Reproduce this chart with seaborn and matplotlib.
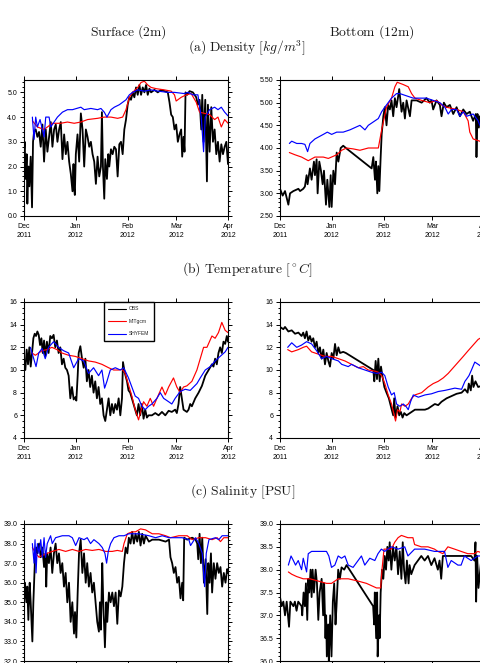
import numpy as np
import pandas as pd
import matplotlib
matplotlib.use('Agg')
import matplotlib.pyplot as plt
import matplotlib.dates as mdates
from matplotlib.ticker import MultipleLocator, FormatStrFormatter
import seaborn as sns

sns.set_theme(style='ticks')
plt.rcParams['font.family'] = ['Liberation Sans', 'DejaVu Sans']
plt.rcParams['mathtext.fontset'] = 'cm'

START = pd.Timestamp('2011-12-01')
END = pd.Timestamp('2012-04-01')
series_names = ['OBS', 'MITgcm', 'SHYFEM']
series_colors = ['black', 'red', 'blue']

# ---------------- Density, surface ----------------
dens_sfc_obs_day = [0, 0.4, 1, 1.6, 2, 2.6, 3.2, 4, 4.8, 5.4, 6, 7, 8, 9, 10, 11, 12, 13, 14, 15, 16, 17, 18, 19, 20,
                    21, 22, 23, 24, 25, 26, 27, 28, 29, 29.6, 30, 30.4, 31, 32, 33, 34, 35, 36, 37, 38, 39, 40, 41, 42,
                    43, 44, 45, 46, 46.6, 47.2, 48, 48.6, 49.6, 50.4, 51, 52, 53, 54, 55, 56, 57, 58, 59, 60, 61, 62,
                    63, 64, 65, 66, 67, 68, 69, 70, 71, 72, 73, 74, 75, 76, 78, 80, 82, 84, 86, 87, 88, 89, 90, 91,
                    92, 93, 94, 94.6, 95.4, 96, 96.6, 97.6, 99, 101, 103, 104, 105, 106, 106.6, 107.4, 108.4, 109.4,
                    110, 111, 112, 113, 114, 115, 116, 117, 118, 119, 120, 121, 122]
dens_sfc_obs = [2.6, 3.0, 1.5, 2.5, 0.5, 2.0, 1.2, 2.4, 0.35, 3.0, 3.4, 3.5, 3.2, 3.4, 2.8, 3.7, 2.2, 3.5, 2.6, 3.2,
                3.8, 2.8, 3.5, 3.7, 3.0, 3.5, 3.8, 2.3, 3.3, 2.5, 3.0, 2.2, 1.7, 1.0, 2.1, 1.1, 0.85, 2.5, 3.3, 2.2,
                4.15, 3.5, 2.0, 3.5, 3.2, 2.8, 3.0, 2.5, 2.2, 1.3, 2.4, 1.6, 2.0, 4.2, 2.0, 0.7, 2.3, 1.5, 2.5, 2.0,
                2.7, 2.5, 2.8, 2.7, 1.6, 2.9, 3.0, 2.5, 3.5, 3.9, 4.5, 4.8, 4.7, 5.0, 4.8, 5.2, 4.9, 5.3, 4.9, 5.2,
                5.0, 5.3, 4.9, 5.15, 5.0, 5.1, 5.0, 5.1, 5.05, 5.0, 4.6, 4.1, 4.0, 3.5, 3.7, 3.0, 3.3, 3.5, 2.4,
                3.2, 2.6, 5.0, 4.9, 5.05, 5.0, 4.8, 4.5, 4.7, 3.5, 4.9, 3.0, 4.7, 1.4, 4.5, 2.6, 4.4, 3.0, 3.5, 2.5,
                3.0, 2.2, 2.9, 2.5, 2.8, 3.0, 2.1]
dens_sfc_mit_day = [5, 8, 12, 14, 17, 22, 26, 30, 34, 38, 44, 48, 52, 56, 59, 61, 63, 65, 68, 70, 72, 74, 76, 79, 84,
                    88, 90, 91, 94, 97, 100, 103, 105, 108, 111, 114, 116, 118, 120, 122]
dens_sfc_mit = [3.85, 3.6, 3.5, 3.6, 3.75, 3.75, 3.8, 3.75, 3.8, 3.9, 3.95, 4.0, 4.0, 3.95, 4.0, 4.3, 4.8, 5.0, 5.2,
                5.4, 5.45, 5.3, 5.2, 5.15, 5.1, 5.05, 4.9, 4.65, 4.8, 4.9, 4.95, 4.6, 4.2, 4.15, 4.1, 3.9, 4.0, 3.6,
                3.9, 3.75]
dens_sfc_shy_day = [5, 6, 7, 8, 9.6, 11, 12, 13, 15, 16, 17, 18, 20, 23, 26, 29, 34, 36, 40, 44, 46, 48, 49.6, 52, 54,
                    57, 59, 61, 63, 65, 68, 72, 76, 80, 86, 90, 96, 98, 101, 104, 106, 107.4, 108.4, 111, 114, 116,
                    118, 120, 122]
dens_sfc_shy = [4.0, 3.1, 4.0, 3.6, 3.9, 3.5, 3.2, 4.0, 4.0, 3.6, 3.7, 3.8, 4.0, 4.2, 4.3, 4.3, 4.4, 4.3, 4.35, 4.3,
                4.35, 4.2, 4.0, 4.3, 4.4, 4.5, 4.6, 4.7, 4.9, 5.0, 5.1, 5.05, 5.1, 5.05, 5.0, 5.0, 4.95, 5.0, 4.9, 4.9,
                4.0, 2.6, 4.0, 4.3, 4.4, 4.3, 4.4, 4.2, 4.05]

# ---------------- Density, bottom ----------------
dens_bot_obs_day = [0, 1.6, 3.0, 5.0, 6.0, 8.0, 11.0, 12.0, 13.9, 14.9, 15.9, 16.5, 17.9, 18.9, 20.3, 20.9, 21.9, 22.5,
                    23.5, 24.5, 25.5, 26.3, 27.5, 28.3, 29.5, 30.3, 30.9, 31.9, 32.9, 33.9, 34.9, 36.3, 37.8, 39.4,
                    54.8, 55.8, 56.8, 57.4, 58.2, 58.8, 59.4, 60.2, 60.8, 61.8, 62.7, 63.7, 64.7, 65.7, 66.7, 67.7,
                    68.7, 69.7, 71.3, 72.7, 73.7, 74.7, 75.7, 77.7, 78.7, 81.7, 84.7, 87.6, 89.6, 90.6, 91.6, 93.6,
                    95.6, 96.6, 98.0, 99.6, 101.6, 103.6, 105.6, 107.6, 109.6, 111.6, 113.5, 115.5, 117.1, 117.5,
                    118.1, 118.9, 119.5, 120.7, 122]
dens_bot_obs = [3.1, 2.95, 3.05, 2.75, 3.0, 3.05, 3.1, 3.05, 3.1, 3.15, 3.4, 3.2, 3.55, 3.3, 3.7, 3.4, 3.75, 3.0, 3.7,
                3.5, 3.2, 3.5, 2.75, 3.3, 2.7, 3.4, 2.7, 3.5, 3.2, 3.9, 3.7, 4.0, 4.05, 4.0, 3.55, 3.8, 3.3, 3.7, 3.0,
                3.6, 3.05, 3.8, 4.3, 4.7, 4.9, 4.5, 4.95, 4.85, 5.05, 4.7, 5.1, 4.9, 5.3, 4.8, 5.0, 4.65, 5.05, 4.7,
                5.05, 5.05, 5.0, 5.1, 5.0, 5.05, 4.85, 5.05, 4.95, 4.7, 5.0, 4.9, 4.95, 4.75, 4.9, 4.7, 4.85, 4.75,
                4.8, 4.6, 4.75, 3.8, 4.75, 4.45, 4.7, 4.4, 4.6]
dens_bot_mit_day = [5.6, 9.0, 12.9, 16.9, 20.9, 25.9, 28.9, 33.9, 36.9, 39.8, 43.8, 47.8, 52.8, 58.8, 60.8, 63.7, 66.7,
                    68.7, 70.1, 73.7, 76.7, 78.7, 80.7, 84.7, 89.6, 93.6, 96.6, 99.6, 105.6, 109.6, 112.5, 113.5,
                    115.5, 119.5, 122]
dens_bot_mit = [3.9, 3.85, 3.8, 3.72, 3.8, 3.8, 3.77, 3.85, 3.95, 4.0, 3.98, 3.95, 4.0, 4.0, 4.4, 4.9, 5.1, 5.35, 5.45,
                5.4, 5.35, 5.2, 5.1, 5.05, 5.0, 5.05, 4.95, 4.9, 4.85, 4.8, 4.6, 4.35, 4.2, 4.15, 4.15]
dens_bot_shy_day = [5.6, 7.0, 10.0, 12.9, 14.9, 16.5, 17.9, 20.9, 25.9, 28.3, 30.9, 33.9, 37.8, 41.8, 44.8, 47.8, 50.8,
                    52.8, 54.8, 56.8, 58.8, 60.8, 62.7, 64.7, 66.7, 69.7, 71.7, 75.7, 79.7, 83.7, 87.6, 91.6, 95.6,
                    98.6, 100.6, 102.6, 105.6, 107.6, 109.6, 111.6, 115.5, 118.5, 119.5, 122]
dens_bot_shy = [4.1, 4.15, 4.1, 4.1, 4.08, 3.92, 4.1, 4.2, 4.3, 4.35, 4.3, 4.35, 4.35, 4.4, 4.45, 4.5, 4.4, 4.5, 4.55,
                4.6, 4.65, 4.8, 4.9, 5.0, 5.1, 5.2, 5.2, 5.15, 5.1, 5.1, 5.1, 5.05, 5.0, 4.9, 4.75, 4.85, 4.85, 4.7,
                4.8, 4.7, 4.75, 4.6, 4.5, 4.5]

# ---------------- Temperature, surface ----------------
temp_sfc_obs_day = [0, 0.8, 1.6, 2.4, 3.2, 4.0, 4.8, 5.6, 6.4, 7.2, 8.0, 8.8, 9.6, 10.4, 11.2, 12.0, 12.7, 13.7, 14.7,
                    15.7, 16.7, 17.7, 18.7, 19.7, 20.7, 21.7, 22.7, 23.7, 24.7, 25.7, 26.7, 27.7, 28.7, 29.7, 30.7,
                    31.3, 32.1, 32.7, 33.7, 34.7, 35.7, 36.7, 37.6, 38.6, 39.6, 40.6, 41.6, 42.6, 43.6, 44.6, 45.6,
                    46.6, 47.6, 48.6, 49.6, 50.6, 51.6, 52.6, 53.6, 54.6, 55.6, 56.6, 57.6, 58.6, 59.2, 60.2, 61.6,
                    62.5, 63.5, 64.5, 65.5, 66.5, 67.5, 68.5, 69.5, 70.5, 71.5, 72.5, 73.5, 74.5, 76.5, 78.5, 80.5,
                    82.5, 84.5, 86.5, 88.4, 90.4, 91.4, 92.4, 93.4, 94.4, 95.4, 96.4, 97.4, 98.4, 99.4, 100.4, 102.4,
                    104.4, 106.4, 108.4, 110.4, 112.4, 113.3, 114.3, 115.3, 116.3, 117.3, 118.3, 119.3, 120.3, 121.3,
                    122]
temp_sfc_obs = [11.0, 10.0, 11.8, 10.5, 12.0, 10.3, 11.5, 12.8, 13.2, 13.0, 13.4, 13.1, 12.2, 12.8, 11.5, 12.6, 11.2,
                12.5, 11.5, 13.0, 12.8, 13.1, 12.0, 12.6, 11.5, 12.0, 10.5, 11.0, 10.2, 10.0, 9.5, 7.5, 8.5, 7.4, 7.6,
                7.3, 9.5, 11.5, 12.1, 11.0, 10.2, 11.0, 9.0, 10.0, 8.5, 9.5, 8.0, 9.0, 7.5, 8.5, 7.0, 7.5, 6.0, 5.5,
                6.5, 7.5, 6.0, 7.0, 6.2, 7.0, 6.5, 7.5, 6.0, 7.5, 10.7, 9.8, 9.0, 8.2, 8.0, 7.5, 7.0, 6.5, 6.0, 7.0,
                6.0, 7.0, 5.7, 6.5, 5.8, 6.0, 6.0, 6.2, 6.0, 6.3, 6.0, 6.4, 6.3, 6.5, 6.2, 7.0, 8.5, 7.5, 6.5, 6.4,
                6.3, 6.5, 7.0, 6.8, 7.5, 8.0, 8.6, 9.5, 10.0, 10.5, 10.3, 11.0, 10.5, 11.5, 12.0, 11.5, 12.5, 12.3,
                13.0, 12.5]
temp_sfc_mit_day = [4.8, 6.8, 8.8, 10.8, 13.7, 16.7, 19.7, 22.7, 26.7, 30.7, 34.7, 38.6, 42.6, 46.6, 50.6, 53.6, 56.6,
                    58.6, 60.2, 62.5, 64.5, 66.5, 68.5, 70.1, 71.5, 73.5, 75.5, 77.5, 79.5, 82.5, 84.5, 86.5, 89.4,
                    91.4, 93.4, 95.4, 97.4, 100.4, 103.4, 105.4, 107.4, 109.4, 112.4, 114.3, 116.3, 118.3, 120.3, 122]
temp_sfc_mit = [11.5, 11.3, 11.5, 11.7, 11.8, 12.0, 11.8, 11.5, 11.3, 11.2, 11.0, 10.8, 10.7, 10.5, 10.2, 10.0, 10.0,
                10.05, 9.8, 8.7, 7.7, 6.5, 5.6, 6.5, 7.2, 6.8, 7.5, 6.8, 7.5, 8.5, 7.8, 8.5, 9.3, 8.5, 8.0, 8.5, 8.6,
                9.0, 10.0, 11.0, 12.0, 12.0, 13.0, 12.8, 13.3, 14.2, 13.5, 13.3]
temp_sfc_shy_day = [3.8, 7.2, 8.8, 10.8, 12.7, 14.7, 17.7, 20.7, 23.7, 26.7, 29.7, 32.7, 35.7, 38.6, 41.6, 44.6, 46.6,
                    48.2, 49.6, 51.6, 54.6, 57.6, 59.6, 62.5, 64.5, 66.5, 68.5, 70.5, 72.5, 74.5, 76.5, 79.5, 81.5,
                    83.5, 86.5, 88.4, 90.4, 93.4, 96.4, 99.4, 101.4, 103.4, 105.4, 108.4, 111.4, 114.3, 117.3, 120.3,
                    122]
temp_sfc_shy = [12.0, 10.3, 11.5, 11.9, 11.0, 12.0, 12.5, 12.0, 11.7, 11.5, 10.2, 11.0, 10.8, 9.7, 10.2, 9.5, 10.0,
                8.4, 9.0, 10.0, 10.2, 10.0, 10.2, 9.3, 8.5, 7.7, 7.5, 6.8, 6.5, 6.8, 7.0, 7.5, 8.0, 7.5, 7.2, 7.0, 7.5,
                8.1, 8.3, 8.2, 8.5, 8.8, 9.3, 10.0, 10.3, 10.8, 11.2, 11.6, 12.0]

# ---------------- Temperature, bottom ----------------
temp_bot_obs_day = [0, 2.0, 3.0, 5.0, 7.0, 9.0, 11.0, 12.9, 13.9, 14.9, 15.9, 16.9, 17.9, 18.9, 19.9, 20.9, 21.9, 22.9,
                    23.9, 24.9, 25.9, 26.9, 27.9, 28.9, 29.9, 30.9, 31.9, 32.9, 33.9, 34.9, 35.9, 37.8, 39.4, 55.8,
                    56.4, 57.2, 58.0, 58.8, 59.6, 60.4, 61.2, 62.4, 63.7, 65.1, 66.3, 67.7, 68.3, 69.1, 70.3, 71.3,
                    72.3, 73.3, 74.3, 75.7, 77.7, 80.7, 86.7, 88.6, 90.6, 92.6, 94.6, 96.6, 99.6, 102.6, 105.6, 108.6,
                    110.6, 112.2, 112.9, 114.1, 114.9, 115.7, 116.9, 118.5, 120.5, 122]
temp_bot_obs = [13.8, 13.6, 13.8, 13.4, 13.5, 13.2, 13.3, 13.0, 13.3, 12.8, 13.4, 12.6, 13.0, 12.5, 12.8, 12.0, 12.5,
                11.5, 12.0, 11.0, 11.8, 10.5, 11.5, 10.8, 10.3, 11.5, 11.0, 12.3, 11.3, 12.0, 11.5, 11.6, 11.5, 10.0,
                9.0, 10.8, 9.2, 11.0, 9.0, 10.3, 9.5, 8.5, 8.0, 7.5, 6.8, 6.0, 7.5, 5.8, 6.8, 6.0, 6.3, 5.8, 6.2, 6.0,
                6.2, 6.5, 6.5, 6.6, 6.8, 7.0, 6.9, 7.2, 7.5, 7.7, 7.9, 8.0, 8.3, 8.0, 8.8, 8.2, 9.5, 8.5, 9.0, 8.5,
                8.6, 8.5]
temp_bot_mit_day = [4.6, 7.0, 11.0, 13.9, 15.9, 18.9, 22.9, 26.9, 30.9, 34.9, 38.8, 42.8, 46.8, 49.8, 52.8, 56.8, 58.8,
                    60.8, 62.7, 64.7, 66.7, 68.3, 69.1, 70.3, 71.7, 72.7, 74.7, 76.7, 78.7, 80.7, 84.7, 88.6, 91.6,
                    94.6, 97.6, 100.6, 103.6, 106.6, 109.6, 112.5, 115.5, 118.5, 122]
temp_bot_mit = [11.8, 11.6, 11.8, 12.0, 12.1, 11.6, 11.4, 11.2, 11.2, 11.0, 10.8, 10.5, 10.2, 10.3, 10.0, 9.9, 9.8, 9.5,
                8.8, 7.8, 7.0, 6.0, 5.5, 6.5, 6.3, 7.0, 6.8, 7.0, 7.5, 7.8, 8.0, 8.5, 8.8, 9.0, 9.3, 9.7, 10.2, 10.7,
                11.2, 11.7, 12.2, 12.7, 13.0]
temp_bot_shy_day = [4.6, 7.0, 10.0, 12.9, 15.9, 18.9, 21.9, 24.9, 27.9, 30.9, 34.9, 36.9, 40.8, 42.8, 46.8, 50.8, 54.8,
                    57.8, 60.8, 62.7, 64.7, 66.7, 68.3, 69.7, 71.7, 73.7, 75.3, 76.7, 78.1, 79.7, 82.7, 86.7, 90.6,
                    94.6, 98.6, 104.6, 108.6, 110.6, 111.6, 113.0, 114.5, 116.5, 118.5, 120.5, 122]
temp_bot_shy = [12.0, 12.4, 12.0, 12.2, 12.5, 12.3, 11.7, 11.0, 11.2, 11.0, 10.8, 10.5, 10.3, 10.5, 10.2, 10.0, 9.8,
                9.7, 9.8, 9.5, 8.5, 7.8, 8.0, 7.0, 6.8, 7.0, 6.8, 6.5, 7.2, 7.8, 7.6, 7.8, 7.9, 8.1, 8.2, 8.4, 8.3,
                9.0, 9.2, 9.5, 10.0, 10.7, 10.5, 10.3, 10.5]

# ---------------- Salinity, surface ----------------
sal_sfc_obs_day = [0, 0.6, 1.4, 2.0, 2.6, 3.4, 4.0, 5.0, 5.6, 6.6, 7.4, 8.0, 9.0, 10.0, 11.0, 12.0, 12.9, 13.3, 13.9,
                   14.9, 15.9, 16.9, 17.9, 18.9, 19.9, 20.9, 21.9, 22.9, 23.9, 24.9, 25.9, 26.9, 27.9, 28.9, 29.9,
                   30.5, 31.3, 32.1, 32.9, 33.9, 34.9, 35.9, 36.9, 37.8, 38.8, 39.8, 40.8, 41.8, 42.8, 43.8, 44.8,
                   45.4, 46.0, 46.8, 47.4, 48.4, 49.2, 49.8, 50.8, 51.8, 52.8, 53.8, 54.8, 55.8, 56.8, 57.8, 58.8,
                   59.8, 60.8, 61.8, 62.7, 63.7, 64.7, 65.7, 66.7, 67.7, 68.7, 69.7, 70.7, 71.7, 72.7, 74.7, 76.7,
                   80.7, 84.7, 86.7, 87.6, 88.6, 89.6, 90.6, 91.6, 92.6, 93.6, 94.6, 95.2, 95.8, 97.6, 100.6, 102.6,
                   103.6, 104.2, 105.0, 105.8, 106.6, 107.6, 108.6, 109.6, 110.2, 111.0, 111.8, 112.5, 113.5, 114.5,
                   115.5, 116.5, 117.5, 118.5, 119.5, 120.5, 121.5, 122]
sal_sfc_obs = [35.0, 36.0, 35.0, 35.8, 34.1, 36.0, 35.0, 33.0, 35.0, 37.3, 37.8, 37.5, 38.0, 37.3, 37.8, 36.8, 37.5,
               35.8, 37.5, 37.0, 37.8, 36.5, 37.5, 38.0, 37.0, 37.5, 36.5, 37.0, 35.8, 36.5, 35.0, 36.0, 34.0, 35.0,
               33.4, 34.5, 33.2, 35.5, 37.5, 38.2, 36.5, 37.5, 36.0, 37.0, 35.8, 36.5, 35.5, 36.0, 35.0, 34.0, 33.5,
               35.0, 33.6, 37.0, 35.0, 32.7, 35.0, 34.0, 35.5, 35.0, 35.5, 34.8, 35.5, 33.9, 35.6, 35.3, 35.8, 37.0,
               37.8, 37.5, 38.3, 38.0, 38.6, 38.0, 38.5, 38.1, 38.6, 37.9, 38.5, 38.0, 38.4, 38.1, 38.2, 38.2, 38.1,
               38.2, 37.3, 37.0, 36.5, 36.8, 36.0, 36.3, 35.2, 36.0, 35.1, 38.3, 38.2, 38.3, 38.2, 38.0, 37.2, 38.5,
               37.0, 38.3, 36.0, 37.2, 34.4, 37.0, 36.0, 37.5, 35.5, 37.0, 36.2, 37.0, 36.5, 36.8, 35.8, 36.5, 36.0,
               36.7, 36.5]
sal_sfc_mit_day = [5.0, 7.0, 9.0, 11.0, 13.9, 16.9, 20.9, 24.9, 28.9, 32.9, 36.9, 40.8, 44.8, 48.8, 52.8, 55.8, 58.8,
                   59.8, 61.8, 64.7, 66.7, 69.7, 72.7, 76.7, 80.7, 84.7, 87.6, 92.6, 97.6, 100.6, 104.6, 108.6, 112.5,
                   115.5, 117.5, 119.5, 122]
sal_sfc_mit = [37.8, 37.5, 37.3, 37.4, 37.5, 37.6, 37.7, 37.6, 37.7, 37.6, 37.7, 37.65, 37.7, 37.6, 37.6, 37.65, 37.6,
               38.0, 38.5, 38.6, 38.6, 38.75, 38.7, 38.5, 38.5, 38.4, 38.3, 38.4, 38.4, 38.2, 38.3, 38.3, 38.2, 38.3,
               38.1, 38.3, 38.3]
sal_sfc_shy_day = [5.0, 6.0, 6.6, 7.2, 8.0, 9.0, 10.0, 11.0, 12.0, 12.9, 13.9, 15.9, 16.9, 18.9, 22.9, 26.9, 28.9, 30.9,
                   32.9, 35.9, 37.8, 39.8, 41.8, 44.8, 46.8, 48.4, 49.4, 50.4, 51.8, 53.8, 56.8, 59.8, 62.7, 68.7,
                   74.7, 78.7, 82.7, 86.7, 94.6, 98.6, 99.6, 102.6, 104.6, 106.6, 108.0, 109.0, 110.6, 114.5, 116.5,
                   118.5, 122]
sal_sfc_shy = [38.0, 37.0, 38.2, 36.5, 38.0, 37.5, 38.2, 37.3, 38.3, 37.3, 38.0, 38.4, 38.0, 38.3, 38.4, 38.4, 38.3,
               37.9, 38.3, 38.2, 38.3, 38.0, 38.2, 38.0, 37.8, 37.5, 37.0, 37.6, 38.0, 38.3, 38.4, 38.4, 38.5, 38.5,
               38.4, 38.3, 38.4, 38.3, 38.3, 38.2, 37.9, 38.3, 38.0, 37.5, 35.8, 37.5, 38.2, 38.3, 38.2, 38.4, 38.4]

# ---------------- Salinity, bottom ----------------
sal_bot_obs_day = [0, 1.0, 2.0, 3.0, 4.0, 5.4, 6.2, 8.0, 8.9, 9.9, 10.9, 12.9, 13.3, 14.1, 14.9, 15.5, 16.3, 16.9, 17.5,
                   18.3, 18.9, 19.5, 20.3, 21.3, 22.1, 22.9, 23.7, 24.9, 25.8, 26.4, 27.2, 27.6, 28.0, 28.8, 29.2,
                   30.0, 30.8, 31.6, 32.4, 33.2, 33.8, 34.8, 35.8, 36.8, 38.4, 39.8, 55.7, 56.3, 56.7, 57.5, 58.1,
                   58.4, 59.2, 59.6, 60.2, 61.0, 61.8, 62.6, 63.4, 64.2, 65.0, 65.6, 66.6, 67.6, 68.6, 69.6, 70.6,
                   71.6, 72.6, 73.4, 74.2, 75.1, 75.9, 76.9, 77.5, 78.5, 80.5, 82.5, 84.5, 86.5, 88.5, 90.5, 92.4,
                   94.4, 95.4, 96.4, 97.4, 99.4, 104.4, 110.3, 114.3, 116.3, 116.9, 117.3, 117.9, 118.7, 120.3, 122]
sal_bot_obs = [37.4, 37.2, 37.3, 37.0, 37.3, 36.75, 37.3, 37.2, 37.3, 37.1, 37.3, 37.2, 37.0, 37.5, 37.2, 37.7, 36.9,
               37.8, 37.5, 38.0, 37.4, 38.0, 37.5, 38.0, 37.7, 36.9, 37.5, 37.8, 37.0, 37.7, 36.5, 37.0, 36.1, 36.8,
               36.0, 37.0, 36.1, 37.3, 37.7, 36.8, 37.2, 38.0, 37.8, 38.05, 38.0, 38.1, 37.2, 36.8, 37.5, 36.5, 37.5,
               36.1, 37.0, 36.5, 37.5, 38.0, 37.8, 38.3, 38.0, 38.5, 38.2, 38.6, 38.0, 38.5, 38.2, 38.5, 37.9, 38.4,
               37.8, 38.6, 38.0, 37.7, 38.2, 37.7, 38.1, 37.9, 38.1, 38.2, 38.3, 38.2, 38.3, 38.1, 38.25, 38.0, 38.2,
               37.8, 38.3, 38.3, 38.3, 38.3, 38.3, 38.2, 38.6, 37.3, 38.3, 37.6, 38.2, 38.2]
sal_bot_mit_day = [5.0, 7.0, 9.9, 13.9, 17.9, 22.9, 27.8, 30.8, 34.8, 40.8, 46.7, 51.7, 54.7, 57.7, 60.2, 61.0, 62.2,
                   66.6, 68.6, 70.6, 72.6, 76.5, 79.5, 80.5, 84.5, 88.5, 92.4, 94.4, 97.4, 98.4, 100.4, 104.4, 108.3,
                   112.3, 116.3, 118.3, 122]
sal_bot_mit = [37.95, 37.9, 37.85, 37.8, 37.8, 37.75, 37.7, 37.7, 37.8, 37.8, 37.75, 37.7, 37.65, 37.6, 37.6, 38.0,
               38.45, 38.45, 38.6, 38.7, 38.75, 38.7, 38.7, 38.55, 38.5, 38.5, 38.45, 38.4, 38.35, 38.4, 38.5, 38.45,
               38.4, 38.35, 38.35, 38.4, 38.35]
sal_bot_shy_day = [5.0, 6.6, 8.0, 9.3, 10.9, 12.9, 13.9, 15.9, 16.9, 18.9, 22.9, 27.8, 29.2, 30.8, 32.8, 34.8, 36.8,
                   38.8, 40.8, 43.7, 46.7, 48.7, 50.7, 53.7, 56.7, 58.6, 60.6, 62.6, 66.6, 70.6, 74.6, 76.5, 80.5,
                   86.5, 92.4, 98.4, 100.4, 102.4, 106.4, 108.3, 110.3, 114.3, 118.3, 122]
sal_bot_shy = [38.1, 38.3, 38.2, 38.1, 38.2, 38.0, 38.25, 37.95, 38.35, 38.4, 38.4, 38.4, 38.3, 38.05, 38.1, 38.3,
               38.25, 38.3, 38.1, 38.05, 38.2, 38.3, 38.1, 38.25, 38.2, 38.35, 38.45, 38.4, 38.5, 38.45, 38.5, 38.3,
               38.45, 38.45, 38.4, 38.4, 38.05, 38.2, 38.1, 38.1, 38.3, 38.2, 38.3, 38.3]

# ---------------- Layout ----------------
W, H = 480, 663
fig = plt.figure(figsize=(W / 100, H / 100), dpi=100)
fig.patch.set_facecolor('white')


def axes_px(x0, y0, x1, y1):
    return fig.add_axes([x0 / W, 1 - y1 / H, (x1 - x0) / W, (y1 - y0) / H])


def draw(ax, triples, ylim, major, minor, fmt):
    for (days, vals), name, color in zip(triples, series_names, series_colors):
        df = pd.DataFrame({'time': START + pd.to_timedelta(np.asarray(days, float), unit='D'),
                           'value': vals})
        sns.lineplot(data=df, x='time', y='value', ax=ax, color=color, estimator=None, sort=False,
                     lw=1.3 if color == 'black' else 0.85, label=name)
    if ax.get_legend() is not None:
        ax.get_legend().remove()
    ax.set_xlim(START, END)
    ax.set_ylim(*ylim)
    ax.set_xlabel('')
    ax.set_ylabel('')
    ax.xaxis.set_major_locator(mdates.MonthLocator())
    ax.xaxis.set_major_formatter(mdates.DateFormatter('%b\n%Y'))
    ax.xaxis.set_minor_locator(plt.NullLocator())
    ax.yaxis.set_major_locator(MultipleLocator(major))
    ax.yaxis.set_minor_locator(MultipleLocator(minor))
    ax.yaxis.set_major_formatter(FormatStrFormatter(fmt))
    ax.tick_params(which='both', direction='out', top=True, right=True, labelsize=5, colors='black',
                   width=0.7)
    ax.tick_params(which='major', length=3.0, pad=2)
    ax.tick_params(which='minor', length=1.5)
    for lab in ax.get_xticklabels():
        lab.set_linespacing(1.35)
    for s in ax.spines.values():
        s.set_linewidth(0.8)
        s.set_color('black')
    ax.set_facecolor('white')


LX0, LX1 = 24, 228
RX0, RX1 = 280, 484
rows = [(80, 216), (302, 438), (524, 661)]

ax = axes_px(LX0, rows[0][0], LX1, rows[0][1])
draw(ax, [(dens_sfc_obs_day, dens_sfc_obs), (dens_sfc_mit_day, dens_sfc_mit), (dens_sfc_shy_day, dens_sfc_shy)],
     (0, 5.5), 1.0, 0.2, '%.1f')
ax = axes_px(RX0, rows[0][0], RX1, rows[0][1])
draw(ax, [(dens_bot_obs_day, dens_bot_obs), (dens_bot_mit_day, dens_bot_mit), (dens_bot_shy_day, dens_bot_shy)],
     (2.5, 5.5), 0.5, 0.1, '%.2f')

ax_t = axes_px(LX0, rows[1][0], LX1, rows[1][1])
draw(ax_t, [(temp_sfc_obs_day, temp_sfc_obs), (temp_sfc_mit_day, temp_sfc_mit), (temp_sfc_shy_day, temp_sfc_shy)],
     (4, 16), 2, 0.5, '%d')
ax = axes_px(RX0, rows[1][0], RX1, rows[1][1])
draw(ax, [(temp_bot_obs_day, temp_bot_obs), (temp_bot_mit_day, temp_bot_mit), (temp_bot_shy_day, temp_bot_shy)],
     (4, 16), 2, 0.5, '%d')

ax = axes_px(LX0, rows[2][0], LX1, rows[2][1])
draw(ax, [(sal_sfc_obs_day, sal_sfc_obs), (sal_sfc_mit_day, sal_sfc_mit), (sal_sfc_shy_day, sal_sfc_shy)],
     (32, 39), 1.0, 0.2, '%.1f')
ax = axes_px(RX0, rows[2][0], RX1, rows[2][1])
draw(ax, [(sal_bot_obs_day, sal_bot_obs), (sal_bot_mit_day, sal_bot_mit), (sal_bot_shy_day, sal_bot_shy)],
     (36, 39), 0.5, 0.1, '%.1f')

# legend in the surface temperature panel
handles = [plt.Line2D([], [], color=c, lw=0.8) for c in series_colors]
leg = ax_t.legend(handles, series_names, loc='upper left', bbox_to_anchor=(0.39, 1.0), fontsize=3.6,
                  frameon=True, fancybox=False, edgecolor='black', handlelength=3.6, handletextpad=0.6,
                  borderpad=0.9, labelspacing=1.5, borderaxespad=0)
leg.get_frame().set_linewidth(1.0)
leg.get_frame().set_alpha(1)

# titles
tkw = dict(ha='center', va='center', fontsize=9.8, color='#1a1a1a')
fig.text(128 / W, 1 - 32 / H, r'$\mathrm{Surface\ (2m)}$', **tkw)
fig.text(372 / W, 1 - 32 / H, r'$\mathrm{Bottom\ (12m)}$', **tkw)
fig.text(247 / W, 1 - 48 / H, r'$\mathrm{(a)\ Density\ [}kg/m^3\mathrm{]}$', **tkw)
fig.text(247 / W, 1 - 270 / H, r'$\mathrm{(b)\ Temperature\ [}^\circ C\mathrm{]}$', **tkw)
fig.text(243 / W, 1 - 492 / H, r'$\mathrm{(c)\ Salinity\ [PSU]}$', **tkw)

fig.savefig('out.png', dpi=100, facecolor='white')
